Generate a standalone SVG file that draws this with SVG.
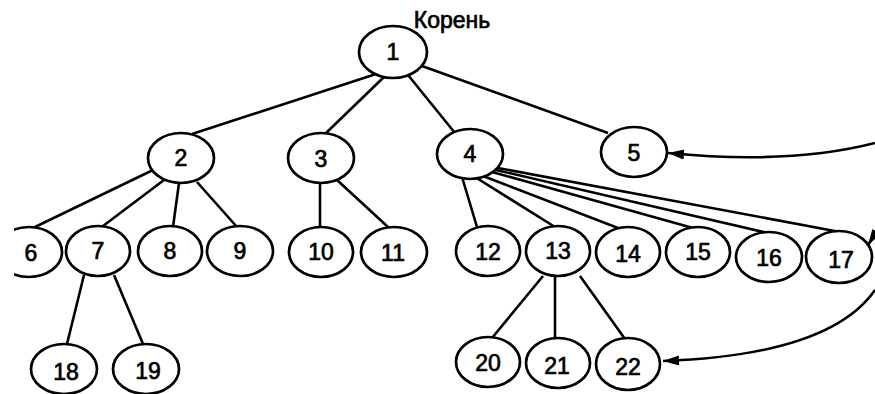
<svg xmlns="http://www.w3.org/2000/svg" width="875" height="394" viewBox="0 0 875 394">
<defs>
<style>
.n ellipse{fill:#fff;stroke:#000;stroke-width:2.7}
.n text,.t{font-family:"Liberation Sans",Arial,sans-serif;font-size:23px;text-anchor:middle;fill:#000;stroke:#000;stroke-width:0.7}
.e line,.e path{stroke:#000;stroke-width:2.6;fill:none}
.a{marker-end:url(#ah)}
</style>
<marker id="ah" markerUnits="userSpaceOnUse" markerWidth="18" markerHeight="12" refX="16" refY="5" orient="auto">
<path d="M0,0 L16,5 L0,10 Z" fill="#000"/>
</marker>
<clipPath id="c6"><rect x="14" y="0" width="861" height="394"/></clipPath>
</defs>
<rect width="875" height="394" fill="#fff"/>
<text class="t" x="452" y="28" font-size="24">Корень</text>
<g id="connectors" class="e">
<line x1="376" y1="74" x2="192" y2="134"/>
<line x1="384" y1="77" x2="325" y2="134"/>
<line x1="408" y1="75" x2="455" y2="133"/>
<line x1="422" y1="66" x2="608" y2="133"/>
<line x1="153" y1="170" x2="35" y2="227"/>
<line x1="164" y1="180" x2="103" y2="226"/>
<line x1="179" y1="183" x2="173" y2="227"/>
<line x1="197" y1="182" x2="237" y2="227"/>
<line x1="320" y1="183" x2="320" y2="227"/>
<line x1="337" y1="180" x2="388" y2="227"/>
<line x1="462" y1="177" x2="477" y2="227"/>
<line x1="475" y1="177" x2="555" y2="227"/>
<line x1="483" y1="176" x2="618" y2="228"/>
<line x1="492" y1="172" x2="693" y2="228"/>
<line x1="496" y1="170" x2="768" y2="233"/>
<line x1="498" y1="168" x2="840" y2="232"/>
<line x1="84" y1="275" x2="67" y2="344"/>
<line x1="114" y1="275" x2="143" y2="344"/>
<line x1="543" y1="276" x2="492" y2="338"/>
<line x1="555" y1="277" x2="555" y2="339"/>
<line x1="580" y1="276" x2="625" y2="339"/>
<path class="a" d="M875,143 Q790,165 668,153"/>
<path class="a" d="M875,290 Q830,355 663,361"/>
<path class="a" d="M884,220 L868,245"/>
</g>
<g id="n1" class="n"><ellipse cx="393" cy="52" rx="34" ry="26"/><text x="393" y="60">1</text></g>
<g id="n2" class="n"><ellipse cx="181" cy="158" rx="33" ry="25"/><text x="181" y="166">2</text></g>
<g id="n3" class="n"><ellipse cx="321" cy="158" rx="33" ry="25"/><text x="321" y="167">3</text></g>
<g id="n4" class="n"><ellipse cx="470" cy="154" rx="33" ry="25"/><text x="470" y="162">4</text></g>
<g id="n5" class="n"><ellipse cx="634" cy="152" rx="33" ry="25"/><text x="634" y="161">5</text></g>
<g id="n6" class="n" clip-path="url(#c6)"><ellipse cx="29" cy="252" rx="33" ry="25"/><text x="31" y="261">6</text></g>
<g id="n7" class="n"><ellipse cx="98" cy="251" rx="32" ry="25"/><text x="98" y="259">7</text></g>
<g id="n8" class="n"><ellipse cx="170" cy="251" rx="32" ry="25"/><text x="170" y="259">8</text></g>
<g id="n9" class="n"><ellipse cx="240" cy="251" rx="33" ry="25"/><text x="240" y="259">9</text></g>
<g id="n10" class="n"><ellipse cx="321" cy="252" rx="32" ry="25"/><text x="321" y="260">10</text></g>
<g id="n11" class="n"><ellipse cx="394" cy="252" rx="33" ry="25"/><text x="393" y="261">11</text></g>
<g id="n12" class="n"><ellipse cx="488" cy="251" rx="32" ry="25"/><text x="488" y="260">12</text></g>
<g id="n13" class="n"><ellipse cx="558" cy="251" rx="32" ry="25"/><text x="558" y="259">13</text></g>
<g id="n14" class="n"><ellipse cx="628" cy="252" rx="32" ry="25"/><text x="628" y="262">14</text></g>
<g id="n15" class="n"><ellipse cx="698" cy="252" rx="32" ry="25"/><text x="698" y="260">15</text></g>
<g id="n16" class="n"><ellipse cx="769" cy="257" rx="33" ry="25"/><text x="769" y="266">16</text></g>
<g id="n17" class="n"><ellipse cx="839" cy="257" rx="33" ry="26"/><text x="841" y="268">17</text></g>
<g id="n18" class="n"><ellipse cx="64" cy="369" rx="33" ry="25"/><text x="66" y="380">18</text></g>
<g id="n19" class="n"><ellipse cx="146" cy="369" rx="33" ry="25"/><text x="148" y="379">19</text></g>
<g id="n20" class="n"><ellipse cx="488" cy="362" rx="32" ry="25"/><text x="488" y="371">20</text></g>
<g id="n21" class="n"><ellipse cx="558" cy="363" rx="32" ry="25"/><text x="557" y="374">21</text></g>
<g id="n22" class="n"><ellipse cx="628" cy="364" rx="32" ry="26"/><text x="628" y="375">22</text></g>
</svg>
